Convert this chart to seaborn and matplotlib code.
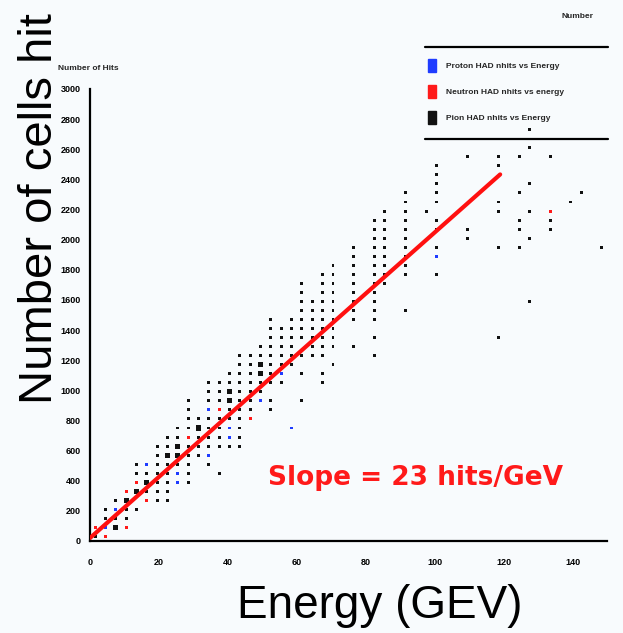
import matplotlib
matplotlib.use("Agg")
import matplotlib.pyplot as plt
import numpy as np
import pandas as pd
import seaborn as sns
from matplotlib.patches import Rectangle
from matplotlib.lines import Line2D

sns.set_theme(style="white")
plt.rcParams["font.family"] = ["Liberation Sans", "DejaVu Sans"]

# ---------------- data ----------------
# Total HAD hits: energy bin centres and the hit values filled in each column
total_energy = [1.5, 4.5, 7.5, 10.5, 13.5, 16.5, 19.5, 22.5, 25.5, 28.5, 31.5,
                34.5, 37.5, 40.5, 43.5, 46.5, 49.5, 52.5, 55.5, 58.5, 61.5,
                64.5, 67.5, 70.5, 76.5, 82.5, 85.5, 91.5, 97.5, 100.5, 109.5,
                118.5, 124.5, 127.5, 133.5, 139.5, 142.5, 148.5]
total_hits = [
    [30],
    [150, 210],
    [90, 150, 270],
    [150, 210, 270],
    [210, 330, 450, 510],
    [330, 390, 450],
    [270, 330, 390, 450, 510, 570, 630],
    [270, 330, 390, 450, 510, 570, 630, 690],
    [510, 570, 630, 690, 750],
    [390, 450, 510, 570, 630, 750, 810, 870, 930],
    [570, 630, 690, 750, 810],
    [510, 630, 690, 750, 810, 930, 990, 1050],
    [450, 630, 690, 750, 810, 930, 990, 1050],
    [630, 810, 870, 930, 990, 1050, 1110],
    [630, 690, 750, 810, 870, 930, 990, 1050, 1110, 1170, 1230],
    [870, 930, 990, 1050, 1110, 1170, 1230],
    [990, 1050, 1110, 1170, 1230, 1290],
    [870, 930, 1050, 1110, 1170, 1230, 1290, 1350, 1410, 1470],
    [1050, 1170, 1230, 1290, 1350, 1410],
    [1170, 1230, 1290, 1350, 1410, 1470],
    [930, 1110, 1230, 1350, 1410, 1470, 1530, 1590, 1650, 1710],
    [1230, 1290, 1350, 1410, 1470, 1530, 1590],
    [1050, 1110, 1230, 1290, 1350, 1410, 1470, 1530, 1590, 1650, 1710, 1770],
    [1170, 1290, 1350, 1410, 1470, 1530, 1590, 1650, 1710, 1770, 1830],
    [1290, 1470, 1530, 1590, 1650, 1710, 1770, 1830, 1890, 1950],
    [1230, 1350, 1470, 1530, 1590, 1650, 1710, 1770, 1830, 1890, 1950, 2010, 2070, 2130],
    [1710, 1770, 1830, 1890, 1950, 2010, 2070, 2130, 2190],
    [1530, 1770, 1830, 1890, 1950, 2010, 2070, 2130, 2190, 2250, 2310],
    [2190],
    [1770, 1950, 2070, 2130, 2250, 2310, 2370, 2430, 2490],
    [2010, 2070, 2550],
    [1350, 1950, 2190, 2250, 2490, 2550],
    [1950, 2070, 2130, 2310, 2550],
    [1590, 2010, 2190, 2370, 2610, 2730],
    [2070, 2130, 2550],
    [2250],
    [2310],
    [1950],
]
# cells with several entries (drawn as larger boxes)
dense_energy = [7.5, 10.5, 13.5, 16.5, 22.5, 25.5, 25.5, 31.5, 40.5, 40.5, 49.5, 49.5]
dense_hits = [90, 270, 330, 390, 570, 570, 630, 750, 930, 990, 1110, 1170]

# Proton HAD hits
proton_energy = [4.5, 7.5, 16.5, 25.5, 25.5, 34.5, 34.5, 40.5, 40.5, 49.5, 55.5, 58.5, 100.5]
proton_hits = [90, 210, 510, 390, 450, 570, 870, 690, 750, 930, 1110, 750, 1890]

# Neutron HAD hits
neutron_energy = [1.5, 4.5, 10.5, 10.5, 13.5, 16.5, 28.5, 37.5, 46.5, 133.5]
neutron_hits = [90, 30, 90, 330, 390, 270, 690, 870, 810, 2190]

# fitted line
fit_energy = [0.0, 119.0]
fit_hits = [20.0, 2433.0]

legend_labels = ["Proton HAD nhits vs Energy",
                 "Neutron HAD nhits vs energy",
                 "Pion HAD nhits vs Energy"]
x_ticks = [0, 20, 40, 60, 80, 100, 120, 140]
y_ticks = list(range(0, 3001, 200))

# ---------------- build table ----------------
rows = []
dense = set(zip(dense_energy, dense_hits))
for e, hs in zip(total_energy, total_hits):
    for h in hs:
        rows.append((e, h, "total", 3 if (e, h) in dense else 1))
for e, h in zip(proton_energy, proton_hits):
    rows.append((e, h, "proton", 1))
for e, h in zip(neutron_energy, neutron_hits):
    rows.append((e, h, "neutron", 1))
df = pd.DataFrame(rows, columns=["energy", "hits", "sample", "count"])

bg = "#f8fbfd"
fig = plt.figure(figsize=(6.23, 6.33), dpi=100, facecolor=bg)
ax = fig.add_axes([90 / 623, 1 - 541 / 633, (607 - 90) / 623, (541 - 89) / 633])
ax.set_facecolor(bg)

palette = {"total": "#111111", "proton": "#1f3cff", "neutron": "#ff1a1a"}
sns.scatterplot(data=df, x="energy", y="hits", hue="sample", size="count",
                sizes=(4.5, 13), size_norm=(1, 3), palette=palette,
                marker="s", linewidth=0, legend=False, ax=ax, zorder=2)
sns.lineplot(x=fit_energy, y=fit_hits, color="#ff1010", lw=3.0, ax=ax, zorder=3)

ax.set_xlim(0, 150)
ax.set_ylim(0, 3000)
ax.set_xticks(x_ticks)
ax.set_xticklabels([str(t) for t in x_ticks])
ax.set_yticks(y_ticks)
ax.set_yticklabels([str(t) for t in y_ticks])
ax.tick_params(axis="both", direction="inout", length=7, width=1.3, colors="black",
               labelsize=6.5)
ax.tick_params(axis="x", pad=9)
ax.tick_params(axis="y", pad=3)
for lab in ax.get_xticklabels() + ax.get_yticklabels():
    lab.set_fontweight("bold")
for s in ["top", "right"]:
    ax.spines[s].set_visible(False)
for s in ["left", "bottom"]:
    ax.spines[s].set_color("black")
    ax.spines[s].set_linewidth(1.6)
ax.set_xlabel("")
ax.set_ylabel("")
ax.grid(False)

# big outer titles
fig.text(40 / 623, 1 - 209 / 633, "Number of cells hit", rotation=90,
         fontsize=34, ha="center", va="center", color="black")
fig.text(380 / 623, 1 - 606 / 633, "Energy (GEV)", fontsize=33,
         ha="center", va="center", color="black")

# small inner labels
fig.text(58 / 623, 1 - 69 / 633, "Number of Hits", fontsize=6, ha="left",
         va="center", fontweight="bold")
fig.text(578 / 623, 1 - 16 / 633, "Number", fontsize=6, ha="center",
         va="center", fontweight="bold")

# slope annotation
fig.text(416 / 623, 1 - 478 / 633, "Slope = 23 hits/GeV", fontsize=19,
         color="#ff1a1a", fontweight="bold", ha="center", va="center",
         family="DejaVu Sans")

# legend box
for yy in (47, 139):
    fig.add_artist(Line2D([425 / 623, 608 / 623], [1 - yy / 633, 1 - yy / 633],
                          color="black", lw=1.6, transform=fig.transFigure))
leg_colors = ["#1f3cff", "#ff1a1a", "#111111"]
for i, (lab, c) in enumerate(zip(legend_labels, leg_colors)):
    yc = 66 + 26 * i
    fig.add_artist(Rectangle((428 / 623, 1 - (yc + 6) / 633), 8 / 623, 13 / 633,
                             color=c, transform=fig.transFigure))
    fig.text(446 / 623, 1 - yc / 633, lab, fontsize=6, ha="left", va="center",
             fontweight="bold")

fig.savefig("out.png", dpi=100, facecolor=bg)
